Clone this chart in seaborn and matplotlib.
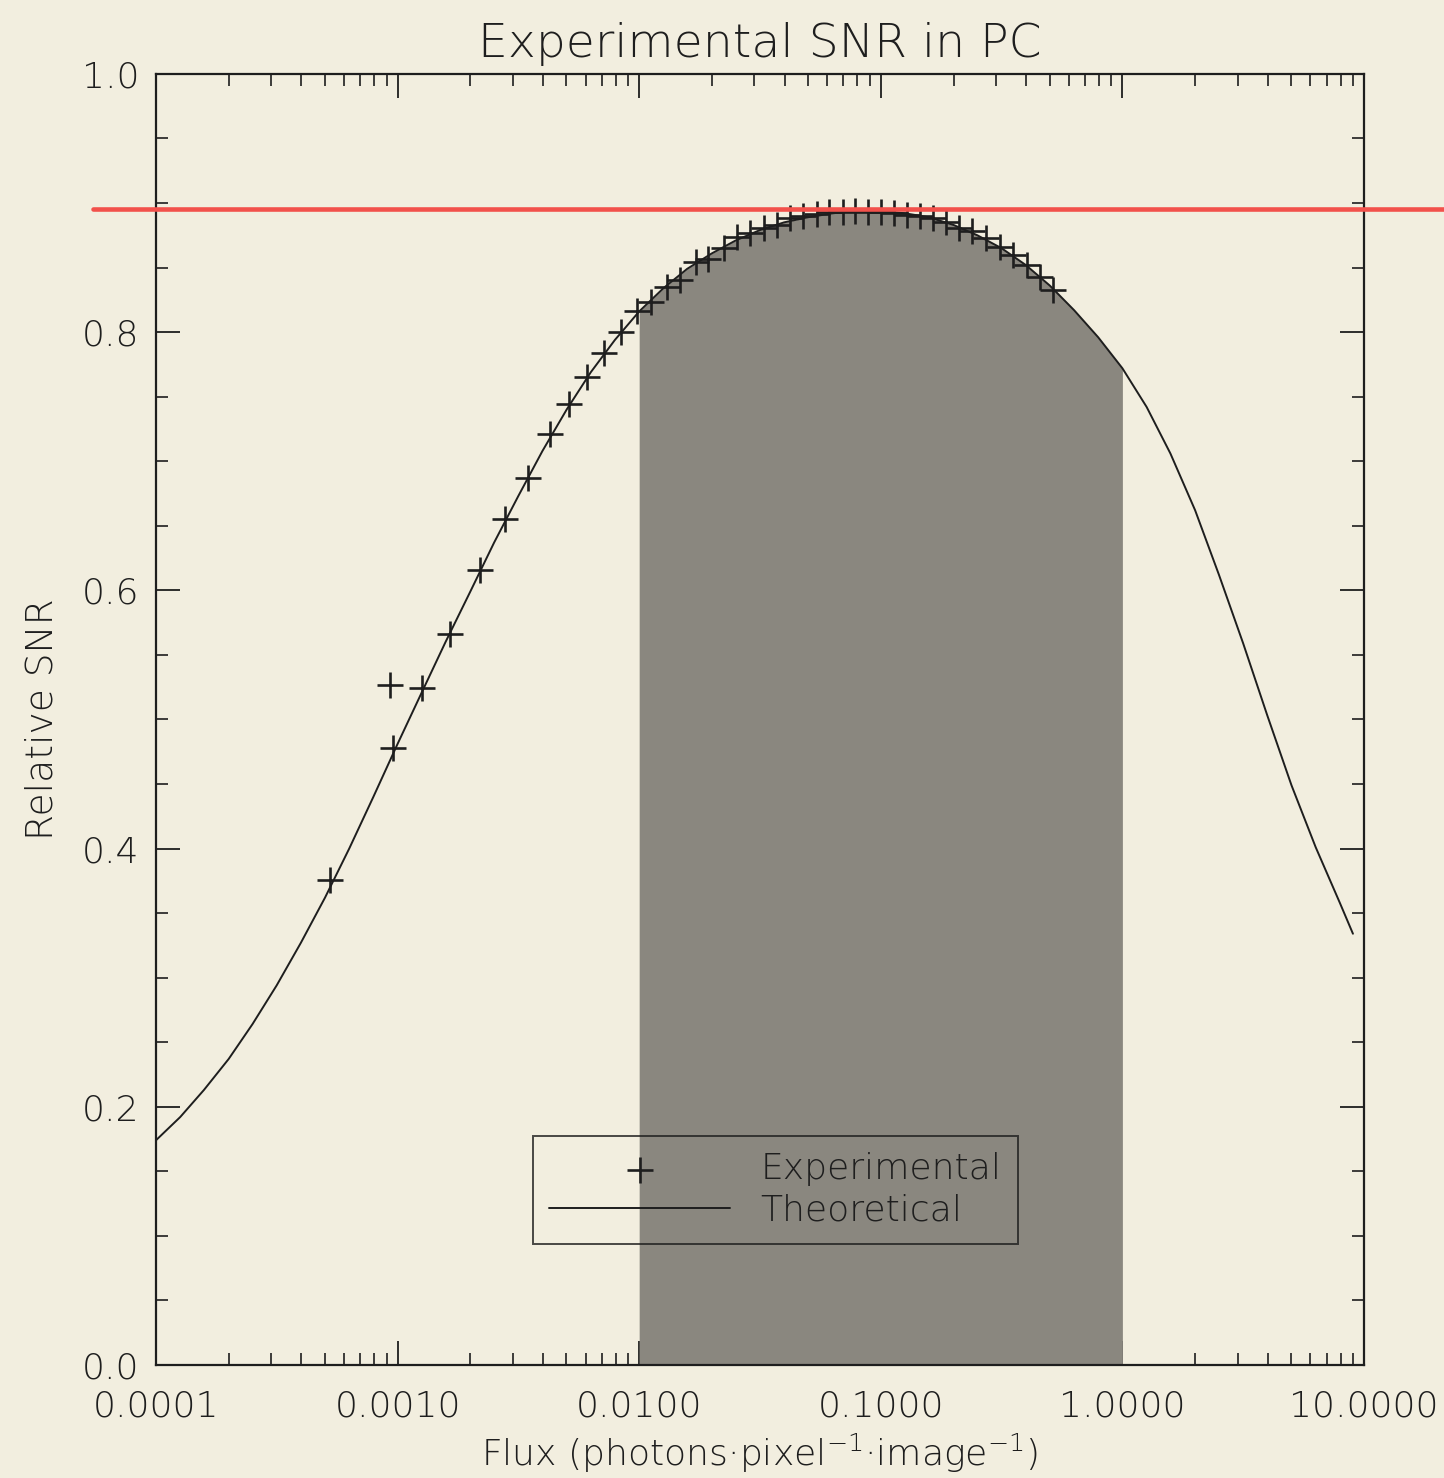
import numpy as np
import pandas as pd
import matplotlib
matplotlib.use("Agg")
import matplotlib.pyplot as plt
import seaborn as sns
from matplotlib.ticker import FixedLocator, FixedFormatter, LogLocator, MultipleLocator, NullFormatter

# ---------------- data ----------------
exp_flux = [5.25e-4, 9.3e-4, 9.57e-4, 1.26e-3, 1.65e-3, 2.19e-3, 2.78e-3, 3.47e-3,
            4.28e-3, 5.12e-3, 6.08e-3, 7.15e-3, 8.41e-3, 9.79e-3, 0.01119, 0.01303,
            0.01475, 0.01718, 0.01927, 0.02244, 0.02540, 0.02876, 0.03288, 0.03719,
            0.04207, 0.04763, 0.05445, 0.06106, 0.06982, 0.07822, 0.0885, 0.1002,
            0.1134, 0.1284, 0.1452, 0.1643, 0.1861, 0.2107, 0.2385, 0.2723, 0.3112,
            0.3521, 0.4025, 0.4556, 0.5159]
exp_snr = [0.376, 0.527, 0.478, 0.524, 0.566, 0.616, 0.655, 0.687,
           0.721, 0.744, 0.765, 0.784, 0.800, 0.816, 0.823, 0.835,
           0.840, 0.854, 0.857, 0.865, 0.874, 0.877, 0.881, 0.883,
           0.888, 0.890, 0.8915, 0.893, 0.893, 0.894, 0.893, 0.893,
           0.892, 0.891, 0.890, 0.888, 0.885, 0.881, 0.878, 0.873, 0.866,
           0.860, 0.852, 0.843, 0.833]

theory_flux = [1.0e-4, 1.26e-4, 1.58e-4, 2.0e-4, 2.51e-4, 3.16e-4, 3.98e-4, 5.01e-4,
               6.31e-4, 7.94e-4, 0.001, 0.00126, 0.00158, 0.002, 0.00251, 0.00316,
               0.00398, 0.00501, 0.00631, 0.00794, 0.01, 0.0126, 0.0158, 0.02,
               0.0251, 0.0316, 0.0398, 0.0501, 0.0631, 0.0794, 0.1, 0.126,
               0.158, 0.2, 0.251, 0.316, 0.398, 0.501, 0.631, 0.794,
               1.0, 1.26, 1.58, 2.0, 2.51, 3.16, 3.98, 5.01, 6.31, 7.94, 9.0]
theory_snr = [0.174, 0.192, 0.213, 0.237, 0.264, 0.294, 0.327, 0.362,
              0.400, 0.440, 0.481, 0.521, 0.560, 0.599, 0.637, 0.673,
              0.708, 0.740, 0.769, 0.794, 0.816, 0.834, 0.849, 0.861,
              0.871, 0.879, 0.885, 0.889, 0.892, 0.894, 0.894, 0.892,
              0.889, 0.883, 0.875, 0.865, 0.852, 0.836, 0.817, 0.796,
              0.772, 0.742, 0.706, 0.662, 0.612, 0.559, 0.503, 0.449, 0.401, 0.358, 0.334]

shade_lo, shade_hi = 0.01, 1.0
reference_snr = 0.895

x_tick_values = [1e-4, 1e-3, 1e-2, 1e-1, 1.0, 10.0]
x_tick_labels = ["0.0001", "0.0010", "0.0100", "0.1000", "1.0000", "10.0000"]
y_tick_values = [0.0, 0.2, 0.4, 0.6, 0.8, 1.0]
y_tick_labels = ["0.0", "0.2", "0.4", "0.6", "0.8", "1.0"]

title = "Experimental SNR in PC"
x_label = "Flux (photons·pixel$^{-1}$·image$^{-1}$)"
y_label = "Relative SNR"
legend_labels = ["Experimental", "Theoretical"]

# ---------------- style ----------------
BG = "#f2eedf"
SHADE = "#8a877f"
INK = "#1e1e1e"
RED = "#f2514b"

sns.set_theme(style="ticks")
plt.rcParams["font.family"] = ["DejaVu Sans"]
plt.rcParams["font.weight"] = "light"
plt.rcParams["axes.titleweight"] = "light"
plt.rcParams["axes.labelweight"] = "light"
plt.rcParams["mathtext.fontset"] = "custom"
plt.rcParams["mathtext.rm"] = "DejaVu Sans:light"
plt.rcParams["mathtext.default"] = "rm"

fig = plt.figure(figsize=(14.44, 14.78), dpi=100, facecolor=BG)
ax = fig.add_axes([0.108, 0.0765, 0.8366, 0.8735])
ax.set_facecolor(BG)

theory_df = pd.DataFrame({"flux": theory_flux, "snr": theory_snr})
exp_df = pd.DataFrame({"flux": exp_flux, "snr": exp_snr})

tf = np.array(theory_flux)
ax.fill_between(theory_df["flux"], 0, theory_df["snr"],
                where=(tf >= shade_lo) & (tf <= shade_hi),
                color=SHADE, lw=0, zorder=1)

sns.lineplot(data=theory_df, x="flux", y="snr", color=INK, lw=1.4, ax=ax,
             label=legend_labels[1], zorder=3)
sns.scatterplot(data=exp_df, x="flux", y="snr", marker="+", s=330, linewidth=1.9,
                color=INK, ax=ax, label=legend_labels[0], zorder=4)

ax.axhline(reference_snr, xmin=-0.052, xmax=1.2, color=RED, lw=3.3,
           clip_on=False, zorder=6)

ax.set_xscale("log")
ax.set_xlim(x_tick_values[0], x_tick_values[-1])
ax.set_ylim(y_tick_values[0], y_tick_values[-1])

ax.xaxis.set_major_locator(FixedLocator(x_tick_values))
ax.xaxis.set_major_formatter(FixedFormatter(x_tick_labels))
ax.xaxis.set_minor_locator(LogLocator(base=10, subs=np.arange(2, 10)))
ax.xaxis.set_minor_formatter(NullFormatter())
ax.yaxis.set_major_locator(FixedLocator(y_tick_values))
ax.yaxis.set_major_formatter(FixedFormatter(y_tick_labels))
ax.yaxis.set_minor_locator(MultipleLocator(0.05))

ax.tick_params(which="both", direction="in", top=True, right=True, colors=INK)
ax.tick_params(which="major", length=17, width=1.3, labelsize=26)
ax.tick_params(which="minor", length=8.5, width=1.2)
ax.tick_params(axis="x", which="major", pad=18)
ax.tick_params(axis="y", which="major", pad=12)
for s in ax.spines.values():
    s.set_color(INK)
    s.set_linewidth(1.6)

ax.set_title(title, fontsize=34, color=INK, pad=12, fontweight="light")
ax.set_xlabel(x_label, fontsize=26, color=INK, labelpad=6, fontweight="light")
ax.set_ylabel(y_label, fontsize=27, color=INK, labelpad=16, fontweight="light")

handles, labels = ax.get_legend_handles_labels()
order = [labels.index(l) for l in legend_labels]
leg = ax.legend([handles[i] for i in order], [labels[i] for i in order],
                loc="center", bbox_to_anchor=(0.5128, 0.1356), fontsize=26,
                frameon=True, fancybox=False, handlelength=5.0, handletextpad=0.85,
                borderpad=0.45, labelspacing=0.2, scatterpoints=1)
leg.get_frame().set_facecolor("none")
leg.get_frame().set_edgecolor(INK)
leg.get_frame().set_linewidth(1.4)
for t in leg.get_texts():
    t.set_color(INK)
    t.set_fontweight("light")

fig.savefig("out.png", dpi=100, facecolor=BG)
